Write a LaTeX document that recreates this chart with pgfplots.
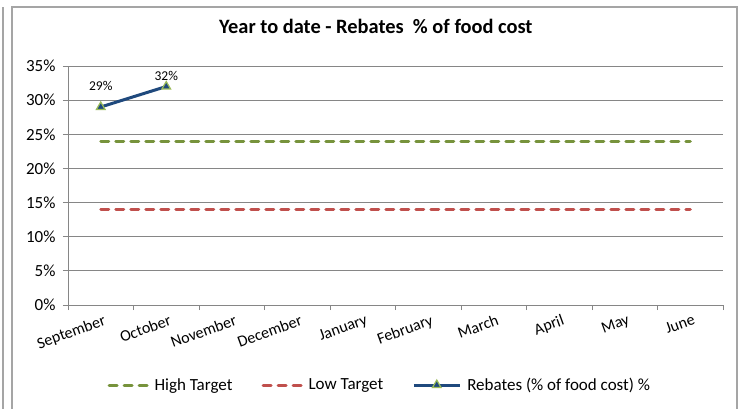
\documentclass[border=0pt]{standalone}
\usepackage{pgfplots}
\pgfplotsset{compat=1.18}
\usepackage{fontspec}
\setmainfont{Carlito}
\definecolor{hi}{RGB}{119,147,60}
\definecolor{lo}{RGB}{192,80,77}
\definecolor{reb}{RGB}{31,73,125}
\definecolor{mk}{RGB}{155,187,89}
\definecolor{gr}{RGB}{134,134,134}
\definecolor{bd}{RGB}{165,165,165}
\pgfplotsset{
  dashleg/.style={legend image code/.code={\draw[##1] (1.5pt,0pt) -- (39.5pt,0pt);}},
  rebleg/.style={legend image code/.code={\draw[##1, mark repeat=2, mark phase=2] plot coordinates {(0pt,0pt) (23pt,0pt) (46pt,0pt)};}},
}
\pgfplotstableread{
x y
0 24
1 24
2 24
3 24
4 24
5 24
6 24
7 24
8 24
9 24
}\hightab
\pgfplotstableread{
x y
0 14
1 14
2 14
3 14
4 14
5 14
6 14
7 14
8 14
9 14
}\lowtab
\pgfplotstableread{
x y dy
0 29 12
1 32 2
}\rebtab
\begin{document}
\begin{tikzpicture}
\useasboundingbox (0,0) rectangle (744pt,-408pt);
\draw[bd, line width=1.2pt] (3pt,-7pt) -- (3pt,-410pt);
\draw[bd, line width=1.2pt] (12pt,-410pt) -- (12pt,-7pt) -- (737pt,-7pt) -- (737pt,-410pt);
\begin{axis}[
  at={(68pt,-305pt)}, anchor=south west,
  scale only axis, width=655pt, height=239pt,
  xmin=-0.5, xmax=9.5, ymin=0, ymax=35,
  axis x line*=bottom, axis y line*=left,
  axis line style={gr, line width=0.9pt, -},
  tick align=outside,
  tick style={gr, line width=0.9pt},
  major tick length=5pt, minor tick length=5pt,
  xtick={0,...,9},
  xticklabels={September,October,November,December,January,February,March,April,May,June},
  every major x tick/.style={draw=none},
  minor xtick={-0.5,0.5,...,9.5},
  ytick={0,5,...,35},
  yticklabel={\pgfmathprintnumber{\tick}\%},
  ymajorgrids, grid style={gr, line width=0.9pt},
  ticklabel style={font=\fontsize{17}{20}\selectfont, text=black},
  yticklabel style={xshift=-4pt},
  xticklabel style={font=\fontsize{16}{19}\selectfont, rotate=20, anchor=north east, xshift=4pt, yshift=-1pt},
  /pgf/number format/assume math mode=true,
  title={Year to date - Rebates\ \ \% of food cost},
  title style={at={(0.47,1.109)}, anchor=base, font=\bfseries\fontsize{20.4}{24}\selectfont},
  legend columns=3,
  legend style={at={(0.476,-0.335)}, anchor=center, draw=none, fill=none,
    font=\fontsize{17}{20}\selectfont,
    /tikz/every odd column/.append style={column sep=4pt},
    /tikz/every even column/.append style={column sep=27pt}},
  legend cell align=left,
]
\addplot[hi, line width=3pt, dash pattern=on 8pt off 7pt, line cap=round, dashleg] table[x=x,y=y] {\hightab};
\addlegendentry{High Target}
\addplot[lo, line width=3pt, dash pattern=on 8pt off 7pt, line cap=round, dashleg] table[x=x,y=y] {\lowtab};
\addlegendentry{Low Target}
\addplot[reb, line width=3pt, mark=triangle*, mark size=5pt,
  mark options={fill=reb, draw=mk, line width=1.2pt},
  visualization depends on={\thisrow{dy} \as \dy},
  nodes near coords={\pgfmathprintnumber{\pgfplotspointmeta}\%},
  point meta=y,
  every node near coord/.append style={font=\fontsize{13.5}{15}\selectfont, text=black, anchor=south, yshift=\dy pt},
  rebleg
] table[x=x,y=y] {\rebtab};
\addlegendentry{Rebates (\% of food cost) \%}
\end{axis}
\end{tikzpicture}
\end{document}
